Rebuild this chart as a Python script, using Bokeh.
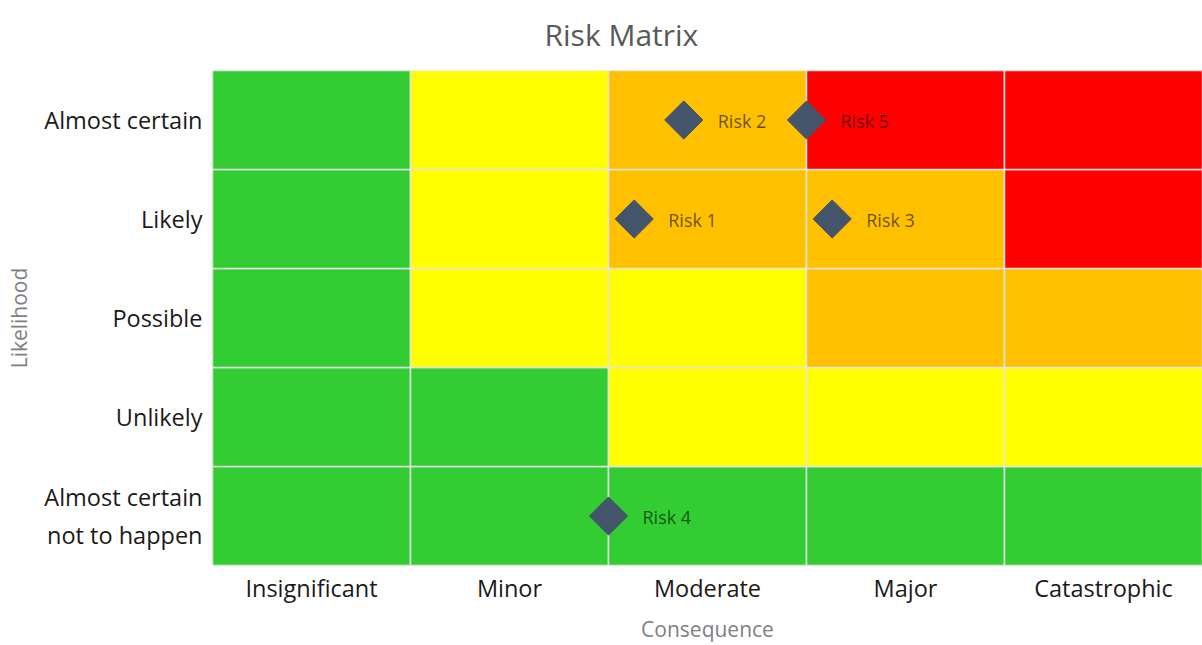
import math
from bokeh.plotting import figure
from bokeh.models import FixedTicker, ColumnDataSource, Range1d
from bokeh.core.properties import value
from bokeh.embed import file_html
from bokeh.resources import INLINE

# ---- data ----
consequences = ["Insignificant", "Minor", "Moderate", "Major", "Catastrophic"]
# likelihood categories, bottom to top
likelihoods = ["Almost certain\nnot to happen", "Unlikely", "Possible", "Likely", "Almost certain"]
# risk level per cell: rows = likelihood (bottom -> top), columns = consequence
risk_levels = [
    ["Low", "Low", "Low", "Low", "Low"],
    ["Low", "Low", "Medium", "Medium", "Medium"],
    ["Low", "Medium", "Medium", "High", "High"],
    ["Low", "Medium", "High", "High", "Extreme"],
    ["Low", "Medium", "High", "Extreme", "Extreme"],
]
risk_names = ["Risk 1", "Risk 2", "Risk 3", "Risk 4", "Risk 5"]
risk_consequence = [2.13, 2.38, 3.13, 2.0, 3.0]
risk_likelihood = [3.5, 4.5, 3.5, 0.5, 4.5]

level_colors = {"Low": "#33CC33", "Medium": "#FFFF00", "High": "#FFC000", "Extreme": "#FF0000"}

FONT = "Open Sans"

p = figure(width=1202, height=645, output_backend="svg", toolbar_location=None,
           x_range=Range1d(0, 5), y_range=Range1d(0, 5),
           min_border_left=212, min_border_right=0, min_border_top=70, min_border_bottom=80)
p.outline_line_color = None
p.xgrid.grid_line_color = None
p.ygrid.grid_line_color = None

# title
p.title.text = "Risk Matrix"
p.title.align = "left"
p.title.offset = 332
p.title.vertical_align = "top"
p.title.text_font = FONT
p.title.text_font_size = "30px"
p.title.text_font_style = "normal"
p.title.text_color = "#595959"
p.title.standoff = 27

# cells
cx, cy, cc = [], [], []
for r, row in enumerate(risk_levels):
    for c, lvl in enumerate(row):
        cx.append(c + 0.5)
        cy.append(r + 0.5)
        cc.append(level_colors[lvl])
cells = ColumnDataSource(dict(x=cx, y=cy, color=cc))
p.rect(x="x", y="y", width=1, height=1, source=cells, fill_color="color",
       line_color="#E4E4E4", line_width=1.5)

# risks
risks = ColumnDataSource(dict(x=risk_consequence, y=risk_likelihood, name=risk_names))
p.scatter(x="x", y="y", source=risks, marker="square", angle=math.pi / 4, size=27,
          fill_color="#44546A", line_color="#44546A")
p.text(x="x", y="y", text="name", source=risks, x_offset=34, y_offset=1,
       text_font=value(FONT), text_font_size="18px", text_color="black", text_alpha=0.6,
       text_baseline="middle", text_align="left")

# axes
p.xaxis.ticker = FixedTicker(ticks=[i + 0.5 for i in range(len(consequences))])
p.xaxis.major_label_overrides = {i + 0.5: t for i, t in enumerate(consequences)}
p.yaxis.ticker = FixedTicker(ticks=[i + 0.5 for i in range(len(likelihoods))])
p.yaxis.major_label_overrides = {i + 0.5: t for i, t in enumerate(likelihoods)}
for ax in (p.xaxis, p.yaxis):
    ax.axis_line_color = None
    ax.major_tick_line_color = None
    ax.minor_tick_line_color = None
    ax.major_label_text_font = FONT
    ax.major_label_text_font_size = "23.5px"
    ax.major_label_text_color = "#1a1a1a"
    ax.axis_label_text_font = FONT
    ax.axis_label_text_font_size = "21px"
    ax.axis_label_text_font_style = "normal"
    ax.axis_label_text_color = "#7f7f7f"
p.xaxis.axis_label = "Consequence"
p.yaxis.axis_label = "Likelihood"
p.xaxis.major_label_standoff = 0
p.yaxis.major_label_standoff = 4
p.xaxis.axis_label_standoff = 8
p.yaxis.axis_label_standoff = 8

open("out.html", "w").write(file_html(p, INLINE))
